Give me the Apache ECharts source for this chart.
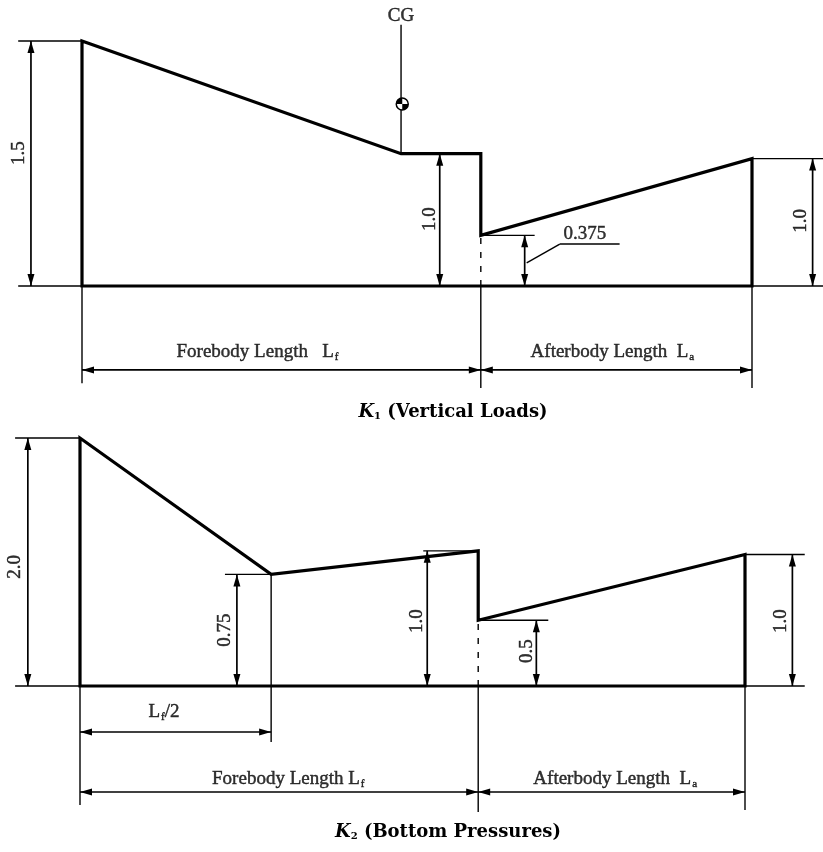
<!DOCTYPE html>
<html><head><meta charset="utf-8">
<script src="https://cdn.jsdelivr.net/npm/echarts@6/dist/echarts.min.js"></script>
<style>html,body{margin:0;padding:0;background:#fff}#c{width:823px;height:852px}</style>
</head><body><div id="c"></div>
<script>
// ---------- K1 (Vertical Loads): x in forebody lengths Lf, y in drawn load-factor units ----------
const k1ProfileX = [0, 0, 0.80, 1.00, 1.00, 1.68, 1.68, 0];
const k1ProfileY = [0, 1.50, 0.81, 0.81, 0.31, 0.78, 0, 0];
// thin extension / leader lines [x1, y1, x2, y2]
const k1Lines = [
  [-0.16, 1.50, 0, 1.50], [-0.16, 0, 0, 0], [1.68, 0, 1.86, 0], [1.68, 0.78, 1.86, 0.78],
  [1.00, 0.31, 1.135, 0.31], [0.80, 0.81, 0.80, 1.60],
  [0, 0, 0, -0.595], [1.00, 0, 1.00, -0.625], [1.68, 0, 1.68, -0.625],
  [1.115, 0.141, 1.198, 0.257], [1.198, 0.257, 1.348, 0.257]
];
const k1Dashed = [[1.00, 0, 1.00, 0.31]];
// dimension arrows [x1, y1, x2, y2]
const k1Arrows = [
  [-0.128, 0, -0.128, 1.50], [0.897, 0, 0.897, 0.81], [1.110, 0, 1.110, 0.31], [1.832, 0, 1.832, 0.78],
  [0, -0.514, 1.00, -0.514], [1.00, -0.514, 1.68, -0.514]
];
const k1CG = [[0.803, 1.114]];
// labels [text, x, y, rotate]
const k1Labels = [
  ['1.5', -0.158, 0.814, 90], ['1.0', 0.872, 0.41, 90], ['0.375', 1.261, 0.318, 0],
  ['1.0', 1.802, 0.398, 90], ['CG', 0.80, 1.653, 0],
  ['{t|Forebody Length   L}{s|f}', 0.44, -0.404, 0],
  ['{t|Afterbody Length  L}{s|a}', 1.33, -0.404, 0]
];
const k1Title = '{k|K}{n|1}{t| (Vertical Loads)}';

// ---------- K2 (Bottom Pressures) ----------
const k2ProfileX = [0, 0, 0.48, 1.00, 1.00, 1.67, 1.67, 0];
const k2ProfileY = [0, 2.00, 0.90, 1.09, 0.53, 1.06, 0, 0];
const k2Lines = [
  [-0.163, 2.00, 0, 2.00], [-0.163, 0, 0, 0], [1.67, 0, 1.82, 0], [1.67, 1.06, 1.82, 1.06],
  [0.364, 0.90, 0.48, 0.90], [0.862, 1.09, 1.00, 1.09], [1.00, 0.53, 1.176, 0.53],
  [0, 0, 0, -0.96], [0.48, 0.90, 0.48, -0.452], [1.00, 0, 1.00, -1.016], [1.67, 0, 1.67, -1.0]
];
const k2Dashed = [[1.00, 0, 1.00, 0.53]];
const k2Arrows = [
  [-0.131, 0, -0.131, 2.00], [0.394, 0, 0.394, 0.90], [0.872, 0, 0.872, 1.09],
  [1.146, 0, 1.146, 0.53], [1.789, 0, 1.789, 1.06],
  [0, -0.371, 0.48, -0.371], [0, -0.855, 1.00, -0.855], [1.00, -0.855, 1.67, -0.855]
];
const k2Labels = [
  ['2.0', -0.163, 0.96, 90], ['0.75', 0.364, 0.45, 90], ['1.0', 0.847, 0.524, 90],
  ['0.5', 1.123, 0.282, 90], ['1.0', 1.761, 0.524, 90],
  ['{t|L}{s|f}{t|/2}', 0.211, -0.21, 0],
  ['{t|Forebody Length L}{s|f}', 0.523, -0.75, 0],
  ['{t|Afterbody Length  L}{s|a}', 1.344, -0.75, 0]
];
const k2Title = '{k|K}{n|2}{t| (Bottom Pressures)}';

// ---------- rendering ----------
const SERIF = 'Liberation Serif';
const txtBold = {textBorderColor: '#000', textBorderWidth: 0.45};
const labelRich = {
  t: Object.assign({fontFamily: SERIF, fontSize: 19, color: '#000'}, txtBold),
  s: Object.assign({fontFamily: SERIF, fontSize: 11, color: '#000', verticalAlign: 'bottom', padding: [10, 0, 0, 1]}, txtBold)
};
const titleRich = {
  k: {fontFamily: 'DejaVu Serif', fontWeight: 'bold', fontStyle: 'italic', fontSize: 18, fill: '#000'},
  n: {fontFamily: 'DejaVu Serif', fontWeight: 'bold', fontSize: 10, fill: '#000', padding: [9, 0, 0, 0]},
  t: {fontFamily: 'DejaVu Serif', fontWeight: 'bold', fontSize: 18, fill: '#000'}
};

function segRender(style) {
  return function (params, api) {
    const a = api.coord([api.value(0), api.value(1)]);
    const b = api.coord([api.value(2), api.value(3)]);
    return {type: 'line', shape: {x1: a[0], y1: a[1], x2: b[0], y2: b[1]}, style: style};
  };
}
function arrowRender(params, api) {
  const a = api.coord([api.value(0), api.value(1)]);
  const b = api.coord([api.value(2), api.value(3)]);
  const dx = b[0] - a[0], dy = b[1] - a[1], L = Math.hypot(dx, dy), ux = dx / L, uy = dy / L;
  const hl = 12, hw = 3.5;
  function head(p, d) {
    const bx = p[0] - d[0] * hl, by = p[1] - d[1] * hl;
    return {type: 'polygon', shape: {points: [[p[0], p[1]], [bx - d[1] * hw, by + d[0] * hw], [bx + d[1] * hw, by - d[0] * hw]]},
      style: {fill: '#000'}};
  }
  return {type: 'group', children: [
    {type: 'line', shape: {x1: a[0], y1: a[1], x2: b[0], y2: b[1]}, style: {stroke: '#000', lineWidth: 1.7}},
    head(a, [-ux, -uy]), head(b, [ux, uy])
  ]};
}
function cgRender(params, api) {
  const p = api.coord([api.value(0), api.value(1)]);
  const r = 6;
  return {type: 'group', children: [
    {type: 'circle', shape: {cx: p[0], cy: p[1], r: r}, style: {fill: '#fff', stroke: '#000', lineWidth: 1.5}},
    {type: 'sector', shape: {cx: p[0], cy: p[1], r0: 0, r: r, startAngle: Math.PI, endAngle: Math.PI * 1.5}, style: {fill: '#000'}},
    {type: 'sector', shape: {cx: p[0], cy: p[1], r0: 0, r: r, startAngle: 0, endAngle: Math.PI * 0.5}, style: {fill: '#000'}}
  ]};
}

function panelSeries(idx, px, py, lines, dashed, arrows, labels) {
  const base = {xAxisIndex: idx, yAxisIndex: idx, silent: true, animation: false};
  return [
    Object.assign({type: 'line', data: px.map((x, i) => [x, py[i]]), symbol: 'none', clip: false,
      lineStyle: {color: '#000', width: 3.2, join: 'miter', cap: 'square'}}, base),
    Object.assign({type: 'custom', clip: false, data: lines,
      renderItem: segRender({stroke: '#000', lineWidth: 1.4})}, base),
    Object.assign({type: 'custom', clip: false, data: dashed,
      renderItem: segRender({stroke: '#000', lineWidth: 1.4, lineDash: [6, 8]})}, base),
    Object.assign({type: 'custom', clip: false, data: arrows, renderItem: arrowRender}, base),
    Object.assign({type: 'scatter', clip: false, symbolSize: 0,
      data: labels.map(l => ({value: [l[1], l[2]], label: {formatter: l[0], rotate: l[3]}})),
      label: Object.assign({show: true, position: 'inside', color: '#000', fontFamily: SERIF, fontSize: 19, rich: labelRich}, txtBold)}, base)
  ];
}

const chart = echarts.init(document.getElementById('c'), null, {renderer: 'canvas'});
const series = panelSeries(0, k1ProfileX, k1ProfileY, k1Lines, k1Dashed, k1Arrows, k1Labels)
  .concat(panelSeries(1, k2ProfileX, k2ProfileY, k2Lines, k2Dashed, k2Arrows, k2Labels));
series.push({type: 'custom', xAxisIndex: 0, yAxisIndex: 0, clip: false, silent: true, animation: false,
  data: k1CG, renderItem: cgRender});

chart.setOption({
  backgroundColor: '#fff',
  animation: false,
  grid: [
    {left: 82, top: 41, width: 670, height: 245},
    {left: 80, top: 438, width: 665, height: 248}
  ],
  xAxis: [
    {type: 'value', gridIndex: 0, min: 0, max: 1.68, show: false},
    {type: 'value', gridIndex: 1, min: 0, max: 1.67, show: false}
  ],
  yAxis: [
    {type: 'value', gridIndex: 0, min: 0, max: 1.5, show: false},
    {type: 'value', gridIndex: 1, min: 0, max: 2.0, show: false}
  ],
  graphic: [
    {type: 'text', x: 453, y: 412, style: {text: k1Title, rich: titleRich, align: 'center', verticalAlign: 'middle', fill: '#000'}},
    {type: 'text', x: 448, y: 832, style: {text: k2Title, rich: titleRich, align: 'center', verticalAlign: 'middle', fill: '#000'}}
  ],
  series: series
});
</script></body></html>
